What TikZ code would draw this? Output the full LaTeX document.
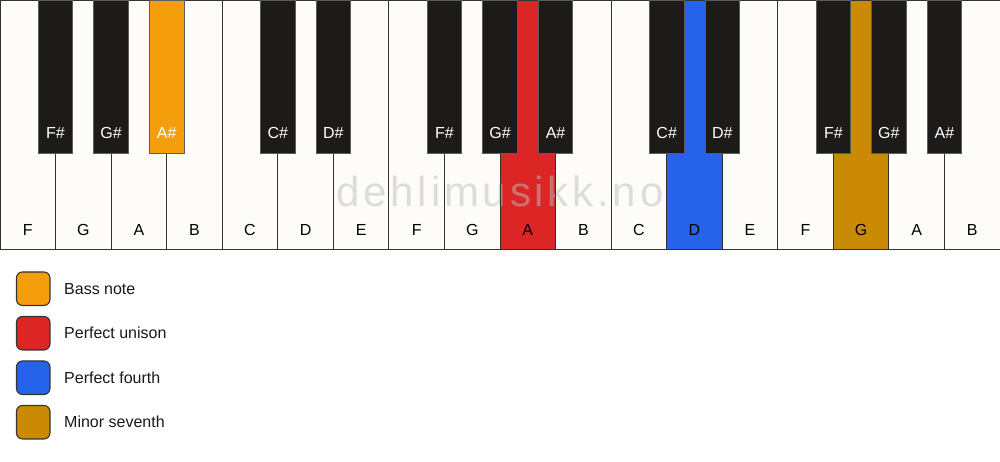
\documentclass[tikz,border=0pt]{standalone}
\usepackage{fontspec}
\setmainfont{Liberation Sans}
\definecolor{ivory}{HTML}{FDFCF9}
\definecolor{ebony}{HTML}{1C1B19}
\definecolor{bassc}{HTML}{F59E0B}
\definecolor{unisc}{HTML}{DC2626}
\definecolor{fourc}{HTML}{2563EB}
\definecolor{sevc}{HTML}{CA8A04}
\definecolor{edge}{HTML}{333333}
\definecolor{wmark}{HTML}{BEBEBE}
\tikzset{
  whitekey/.style={rectangle, inner sep=0pt, outer sep=0pt, minimum width=55.5556pt, minimum height=249pt},
  blackkey/.style={rectangle, inner sep=0pt, outer sep=0pt, minimum width=34.5pt, minimum height=153pt, draw=edge!80, line width=0.8pt},
  wlabel/.style={font=\fontsize{16}{18}\selectfont, text=black, inner sep=0pt},
  blabel/.style={font=\fontsize{16}{18}\selectfont, text=white, inner sep=0pt},
  legbox/.style={rectangle, rounded corners=6pt, minimum width=33.5pt, minimum height=33.5pt, draw=edge, line width=1.1pt, inner sep=0pt},
  legtext/.style={font=\fontsize{16}{18}\selectfont, text=black!90, anchor=west, inner sep=0pt},
}
\begin{document}
\begin{tikzpicture}[x=1pt,y=-1pt]
\useasboundingbox (0,0) rectangle (1000,461);
\fill[white] (0,0) rectangle (1000,461);
% white keys (fills)
\foreach \n/\c [count=\i from 0] in {F/ivory,G/ivory,A/ivory,B/ivory,C/ivory,D/ivory,E/ivory,F/ivory,G/ivory,A/unisc,B/ivory,C/ivory,D/fourc,E/ivory,F/ivory,G/sevc,A/ivory,B/ivory}{
  \node[whitekey, fill=\c] (w\i) at ({(\i+0.5)*55.5556},125) {};
}
% watermark
\node[font=\fontsize{42}{44}\selectfont\addfontfeature{LetterSpace=9}, text=wmark, text opacity=0.5, inner sep=0pt] (wm) at (500,191) {dehlimusikk.no};
% white key borders and labels
\foreach \n [count=\i from 0] in {F,G,A,B,C,D,E,F,G,A,B,C,D,E,F,G,A,B}{
  \draw[edge, line width=1pt] (w\i.north west) rectangle (w\i.south east);
  \node[wlabel] (wl\i) at (w\i.center |- 0,230) {\n};
}
% black keys
\foreach \n/\b/\c in {F\#/1/ebony,G\#/2/ebony,A\#/3/bassc,C\#/5/ebony,D\#/6/ebony,F\#/8/ebony,G\#/9/ebony,A\#/10/ebony,C\#/12/ebony,D\#/13/ebony,F\#/15/ebony,G\#/16/ebony,A\#/17/ebony}{
  \node[blackkey, fill=\c] (b\b) at ({\b*55.5556},76.5) {};
  \node[blabel] (bl\b) at ({\b*55.5556},133) {\n};
}
% legend
\foreach \t/\c/\y [count=\k] in {Bass note/bassc/288.7, Perfect unison/unisc/333.2, Perfect fourth/fourc/377.7, Minor seventh/sevc/422.2}{
  \node[legbox, fill=\c] (lb\k) at (33.2,\y) {};
  \node[legtext] (lt\k) at (64,\y) {\t};
}
\end{tikzpicture}
\end{document}
